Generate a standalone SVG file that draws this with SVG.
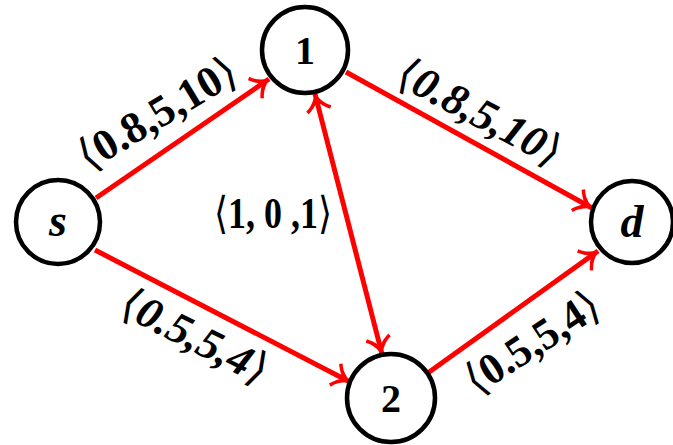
<svg xmlns="http://www.w3.org/2000/svg" width="673" height="445" viewBox="0 0 673 445">
<style>
.node circle{fill:#fff;stroke:#000;stroke-width:4.5}
.nl{font-family:"Liberation Serif","Times New Roman",serif;font-weight:bold;fill:#000;text-anchor:middle}
.edge{stroke:#ff0000;stroke-width:5;fill:none}
.lab{font-family:"Liberation Serif","Times New Roman",serif;font-weight:bold;font-size:44px;fill:#000;text-anchor:middle}
.it{font-style:italic}
.br{font-family:"DejaVu Sans",sans-serif;font-weight:normal;font-style:normal}
</style>
<defs>
<marker id="ah" markerUnits="userSpaceOnUse" orient="auto-start-reverse" refX="0" refY="0" markerWidth="20" markerHeight="24" overflow="visible">
<path d="M1,0 C-6,-3 -12,-7 -15,-13 L-18,-11 C-14,-5 -10,-1 -7,0 C-10,1 -14,5 -18,11 L-15,13 C-12,7 -6,3 1,0 Z" fill="#ff0000"/>
</marker>
</defs>
<g id="connectors">
<path class="edge" d="M96,198 L269,79" marker-end="url(#ah)"/>
<path class="edge" d="M346,72 L592,208" marker-end="url(#ah)"/>
<path class="edge" d="M95,250 L350,382" marker-end="url(#ah)"/>
<path class="edge" d="M425,375 L598,251" marker-end="url(#ah)"/>
<path class="edge" d="M315,94 L382,354" marker-start="url(#ah)" marker-end="url(#ah)"/>
</g>
<g id="labels">
<text class="lab" transform="translate(157,113) rotate(-31)" dy="15" textLength="178" lengthAdjust="spacingAndGlyphs"><tspan class="br">⟨</tspan>0.8,5,10<tspan class="br">⟩</tspan></text>
<text class="lab it" transform="translate(480,112) rotate(28)" dy="15" textLength="180" lengthAdjust="spacingAndGlyphs"><tspan class="br">⟨</tspan>0.8,5,10<tspan class="br">⟩</tspan></text>
<text class="lab it" transform="translate(195,336) rotate(27)" dy="15" textLength="160" lengthAdjust="spacingAndGlyphs"><tspan class="br">⟨</tspan>0.5,5,4<tspan class="br">⟩</tspan></text>
<text class="lab" transform="translate(532,342) rotate(-33)" dy="15" textLength="152" lengthAdjust="spacingAndGlyphs"><tspan class="br">⟨</tspan>0.5,5,4<tspan class="br">⟩</tspan></text>
<text class="lab" x="273" y="228" font-size="40" textLength="118" lengthAdjust="spacingAndGlyphs"><tspan class="br">⟨</tspan>1, 0 ,1<tspan class="br">⟩</tspan></text>
</g>
<g id="node-s" class="node"><circle cx="58" cy="222" r="42"/><text class="nl it" x="58" y="236" font-size="46">s</text></g>
<g id="node-1" class="node"><circle cx="305" cy="50" r="43"/><text class="nl" x="305" y="64" font-size="40">1</text></g>
<g id="node-d" class="node"><circle cx="632" cy="222" r="41"/><text class="nl it" x="632" y="237" font-size="46">d</text></g>
<g id="node-2" class="node"><circle cx="391" cy="398" r="44"/><text class="nl" x="391" y="412" font-size="40">2</text></g>
</svg>
